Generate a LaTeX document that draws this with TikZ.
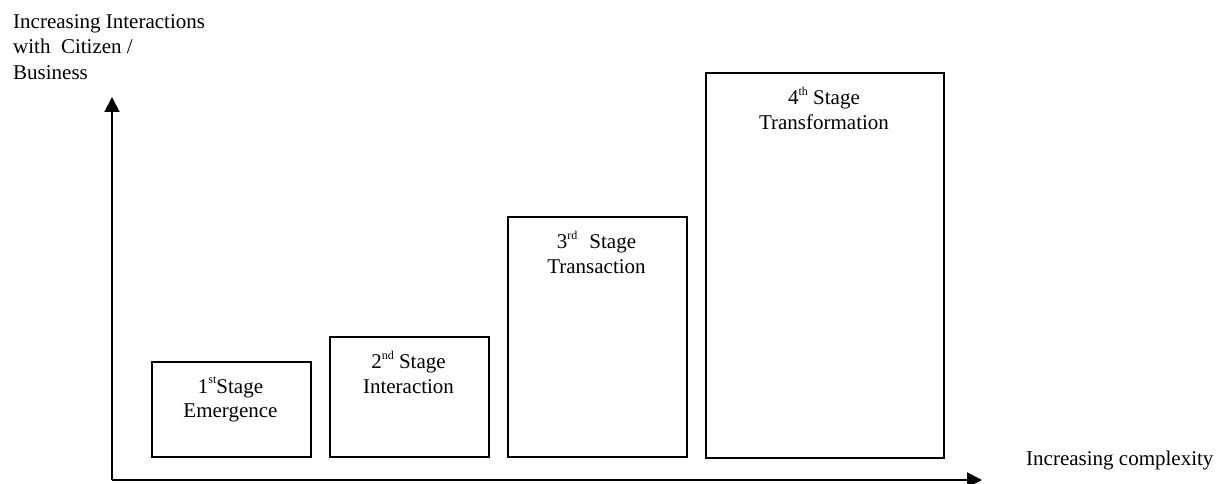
\documentclass[tikz,border=0pt]{standalone}
\usepackage{fontspec}
\setmainfont{Liberation Serif}
\usetikzlibrary{arrows.meta}
\newcommand{\sups}[1]{\raisebox{0.45em}{\fontsize{12pt}{12pt}\selectfont #1}}
\begin{document}
\begin{tikzpicture}[x=1pt,y=-1pt,
  stagebox/.style={draw=black,line width=2pt,inner sep=0pt,anchor=north west},
  stagetext/.style={anchor=north,inner sep=0pt,align=center,font=\fontsize{21pt}{24.5pt}\selectfont},
  axisline/.style={line width=2pt,-{Triangle[length=15pt,width=15pt]}},
  plain/.style={inner sep=0pt,font=\fontsize{21pt}{25.5pt}\selectfont}]
\useasboundingbox (0,0) rectangle (1218,484);
% axes
\coordinate (o) at (112,480);
\coordinate (ytip) at (112,97);
\coordinate (xtip) at (982,480);
\draw[axisline] (o) -- (ytip);
\draw[axisline] (o) -- (xtip);
% boxes
\node[stagebox,minimum width=159pt,minimum height=95pt] (b1) at (151,361) {};
\node[stagebox,minimum width=159pt,minimum height=120pt] (b2) at (329,336) {};
\node[stagebox,minimum width=179pt,minimum height=240pt] (b3) at (507,216) {};
\node[stagebox,minimum width=238pt,minimum height=385pt] (b4) at (705,72) {};
% texts
\node[stagetext] (t1) at (230.5,377) {\rule{0pt}{16pt}1\sups{st}Stage\\Emergence};
\node[stagetext] (t2) at (408.5,351) {\rule{0pt}{16pt}2\sups{nd} Stage\\Interaction};
\node[stagetext] (t3) at (596.5,231) {\rule{0pt}{16pt}3\sups{rd}\hspace{12pt}Stage\\Transaction};
\node[stagetext] (t4) at (824,87) {\rule{0pt}{16pt}4\sups{th} Stage\\Transformation};
\node[plain,anchor=north west,align=left] (ylab) at (13,12) {\rule{0pt}{16pt}Increasing Interactions\\with\ \ Citizen /\\Business};
\node[plain,anchor=base west] (xlab) at (1026,465) {Increasing complexity};
\end{tikzpicture}
\end{document}
